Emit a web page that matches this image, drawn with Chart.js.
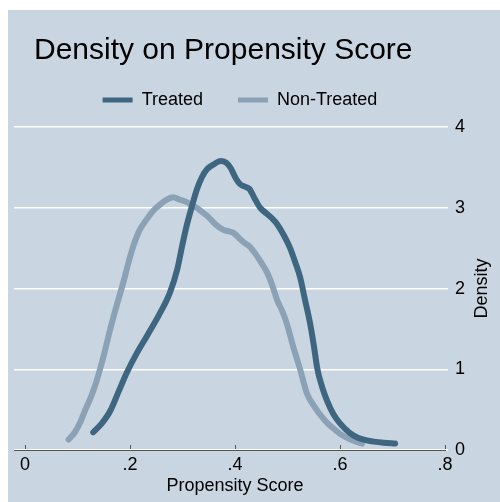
<!DOCTYPE html>
<html>
<head>
<meta charset="utf-8">
<script src="https://cdn.jsdelivr.net/npm/chart.js@4.4.1/dist/chart.umd.min.js"></script>
<style>
  html, body { margin: 0; padding: 0; background: #fff; }
  #panel { position: absolute; left: 8px; top: 10px; width: 492px; height: 492px; background: #c9d5e0; }
</style>
</head>
<body>
<div id="panel"><canvas id="densityChart" width="492" height="492"></canvas></div>
<script>
// Chart text
const chartTitle = "Density on Propensity Score";
const xTitle = "Propensity Score";
const yTitle = "Density";
const seriesNames = ["Treated", "Non-Treated"];

// Axis ticks
const xTickValues = [0, 0.2, 0.4, 0.6, 0.8];
const xTickLabels = ["0", ".2", ".4", ".6", ".8"];
const yTickValues = [0, 1, 2, 3, 4];
const yTickLabels = ["0", "1", "2", "3", "4"];

// Kernel density, treated group
const treatedX = [0.13, 0.145, 0.162, 0.178, 0.194, 0.213, 0.232, 0.255, 0.276, 0.29, 0.3, 0.308, 0.318, 0.327, 0.337, 0.347, 0.36, 0.372, 0.383, 0.392, 0.402, 0.41, 0.42, 0.428, 0.437, 0.448, 0.46, 0.472, 0.48, 0.493, 0.505, 0.515, 0.524, 0.533, 0.543, 0.55, 0.557, 0.566, 0.576, 0.587, 0.6, 0.619, 0.635, 0.651, 0.683, 0.705];
const treatedY = [0.22, 0.32, 0.48, 0.72, 0.96, 1.2, 1.41, 1.67, 1.95, 2.24, 2.55, 2.78, 3.02, 3.22, 3.38, 3.48, 3.54, 3.58, 3.56, 3.49, 3.36, 3.29, 3.26, 3.23, 3.12, 3.0, 2.93, 2.86, 2.8, 2.66, 2.5, 2.32, 2.14, 1.87, 1.57, 1.3, 1.0, 0.78, 0.6, 0.45, 0.33, 0.21, 0.15, 0.12, 0.09, 0.08];

// Kernel density, non-treated group
const nonTreatedX = [0.083, 0.095, 0.105, 0.115, 0.127, 0.137, 0.15, 0.162, 0.175, 0.187, 0.197, 0.206, 0.218, 0.232, 0.245, 0.257, 0.27, 0.282, 0.295, 0.308, 0.318, 0.327, 0.337, 0.347, 0.362, 0.377, 0.387, 0.397, 0.407, 0.417, 0.428, 0.44, 0.45, 0.461, 0.472, 0.48, 0.49, 0.499, 0.51, 0.524, 0.537, 0.55, 0.562, 0.575, 0.587, 0.6, 0.62, 0.642];
const nonTreatedY = [0.13, 0.22, 0.34, 0.5, 0.68, 0.87, 1.17, 1.49, 1.8, 2.07, 2.32, 2.52, 2.72, 2.86, 2.97, 3.04, 3.1, 3.13, 3.1, 3.07, 3.03, 3.0, 2.95, 2.9, 2.8, 2.73, 2.71, 2.69, 2.63, 2.57, 2.52, 2.42, 2.32, 2.2, 2.02, 1.86, 1.72, 1.56, 1.3, 1.0, 0.7, 0.55, 0.44, 0.34, 0.27, 0.2, 0.13, 0.08];

const treatedColor = "#3e6681";
const nonTreatedColor = "#8aa1b6";
const fontFamily = "'Liberation Sans', Arial, sans-serif";

Chart.defaults.font.family = fontFamily;
Chart.defaults.color = "#000";

const toPoints = (xs, ys) => xs.map((x, i) => ({ x: x, y: ys[i] }));

// Title top-left, axis titles placed like Stata (y title reads bottom to top)
const titlesPlugin = {
  id: "stataTitles",
  afterDraw(chart) {
    const ctx = chart.ctx;
    const xScale = chart.scales.x;
    const yScale = chart.scales.y;
    ctx.save();
    ctx.fillStyle = "#000";
    ctx.font = "30px " + fontFamily;
    ctx.textBaseline = "alphabetic";
    ctx.textAlign = "left";
    ctx.fillText(chartTitle, 26, 49);

    ctx.font = "18px " + fontFamily;
    ctx.textAlign = "center";
    const xMid = (xScale.getPixelForValue(0) + xScale.getPixelForValue(0.8)) / 2;
    ctx.fillText(xTitle, xMid, 481);

    ctx.translate(479, yScale.getPixelForValue(2));
    ctx.rotate(-Math.PI / 2);
    ctx.fillText(yTitle, 0, 0);
    ctx.restore();
  }
};

const ctx = document.getElementById("densityChart");
const chart = new Chart(ctx, {
  type: "line",
  data: {
    datasets: [
      {
        label: seriesNames[0],
        data: toPoints(treatedX, treatedY),
        borderColor: treatedColor,
        backgroundColor: treatedColor,
        borderWidth: 6,
        pointRadius: 0,
        cubicInterpolationMode: "monotone",
        borderCapStyle: "round",
        borderJoinStyle: "round",
        fill: false
      },
      {
        label: seriesNames[1],
        data: toPoints(nonTreatedX, nonTreatedY),
        borderColor: nonTreatedColor,
        backgroundColor: nonTreatedColor,
        borderWidth: 6,
        pointRadius: 0,
        cubicInterpolationMode: "monotone",
        borderCapStyle: "round",
        borderJoinStyle: "round",
        fill: false
      }
    ]
  },
  options: {
    responsive: false,
    animation: false,
    layout: { padding: { top: 46, left: 6, right: 34, bottom: 0 } },
    plugins: {
      legend: {
        position: "top",
        labels: {
          boxWidth: 30,
          boxHeight: 5,
          padding: 35,
          color: "#000",
          font: { size: 18 },
          generateLabels: (c) =>
            Chart.defaults.plugins.legend.labels.generateLabels(c).map((l) => ({ ...l, lineWidth: 0 }))
        }
      },
      tooltip: { enabled: false }
    },
    scales: {
      x: {
        type: "linear",
        position: "bottom",
        min: -0.021,
        max: 0.8,
        afterFit: (s) => { s.height = 52; },
        afterBuildTicks: (s) => { s.ticks = xTickValues.map((v) => ({ value: v })); },
        ticks: {
          callback: (v, i) => xTickLabels[i],
          padding: 9,
          maxRotation: 0,
          autoSkip: false,
          font: { size: 18 },
          color: "#000"
        },
        grid: { drawOnChartArea: false, tickLength: -5, color: "#555", lineWidth: 1 },
        border: { color: "#555", width: 1 },
        title: { display: false }
      },
      y: {
        position: "right",
        min: 0,
        max: 4.1,
        afterFit: (s) => { s.width = 21; },
        afterBuildTicks: (s) => { s.ticks = yTickValues.map((v) => ({ value: v })); },
        ticks: {
          callback: (v, i) => yTickLabels[i],
          padding: 7,
          font: { size: 18 },
          color: "#000"
        },
        grid: { color: "#ffffff", tickColor: "#ffffff", lineWidth: 1.5, tickLength: 3 },
        border: { display: false }
      }
    }
  },
  plugins: [titlesPlugin]
});
</script>
</body>
</html>
